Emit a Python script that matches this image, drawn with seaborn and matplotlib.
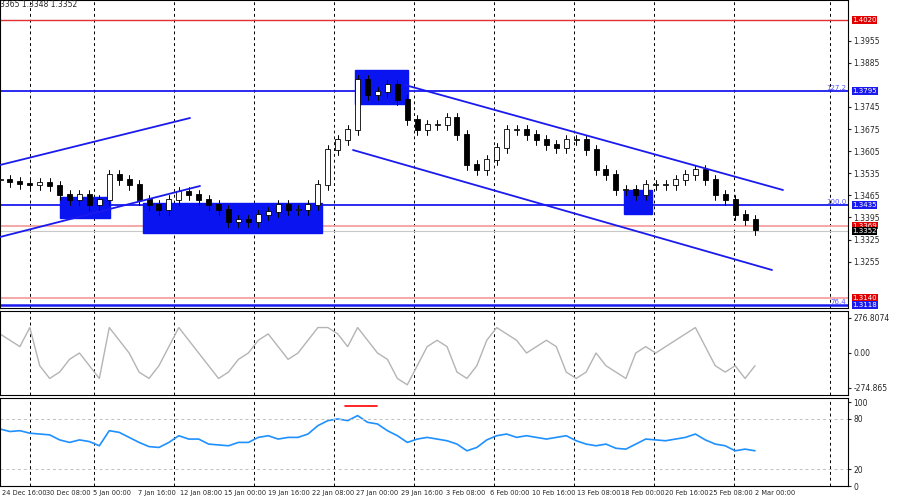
import numpy as np
import matplotlib
matplotlib.use("Agg")
import matplotlib.pyplot as plt
import seaborn as sns

sns.set_style("white")
plt.rcParams['font.family'] = ['DejaVu Sans']

closes = [1.3514,1.3507,1.3501,1.3498,1.3504,1.3495,1.3466,1.3450,1.3466,1.3435,1.3450,1.3529,
          1.3514,1.3498,1.3450,1.3435,1.3419,1.3450,1.3476,1.3466,1.3450,1.3435,1.3419,1.3381,
          1.3387,1.3381,1.3403,1.3412,1.3435,1.3419,1.3419,1.3435,1.3498,1.3609,1.3640,1.3672,
          1.3830,1.3783,1.3792,1.3814,1.3767,1.3704,1.3672,1.3688,1.3688,1.3710,1.3656,1.3561,
          1.3545,1.3577,1.3615,1.3672,1.3672,1.3656,1.3640,1.3624,1.3615,1.3640,1.3640,1.3609,
          1.3545,1.3529,1.3482,1.3482,1.3466,1.3498,1.3498,1.3498,1.3514,1.3529,1.3545,1.3514,
          1.3466,1.3450,1.3403,1.3387,1.3355]
rsi = [68,65,66,63,62,61,55,52,55,53,48,66,64,58,52,47,46,52,60,56,56,50,49,48,52,52,58,60,56,58,
       58,62,72,78,80,78,84,76,74,66,60,52,56,58,56,54,50,42,46,55,60,62,58,60,58,56,58,60,54,50,
       48,50,45,44,50,56,55,54,56,58,62,55,50,48,42,44,42]
cci = [150,100,50,200,-100,-200,-150,-50,0,-100,-200,200,100,0,-150,-200,-100,50,200,100,0,-100,
       -200,-150,-50,0,100,150,50,-50,0,100,200,200,150,50,200,100,0,-50,-200,-250,-100,50,100,50,
       -150,-200,-100,100,200,150,100,0,50,100,50,-150,-200,-150,0,-100,-150,-200,0,50,0,50,100,150,
       200,50,-100,-150,-100,-200,-100]
date_labels = ["24 Dec 16:00","30 Dec 08:00","5 Jan 00:00","7 Jan 16:00","12 Jan 08:00","15 Jan 00:00",
               "19 Jan 16:00","22 Jan 08:00","27 Jan 00:00","29 Jan 16:00","3 Feb 08:00","6 Feb 00:00",
               "10 Feb 16:00","13 Feb 08:00","18 Feb 00:00","20 Feb 16:00","25 Feb 08:00","2 Mar 00:00"]
price_ticks = [1.3255,1.3325,1.3395,1.3465,1.3535,1.3605,1.3675,1.3745,1.3885,1.3955]
levels = [(1.4020,'#e03030',1.0,'#e00000','1.4020'),(1.3795,'#1a1aee',1.3,'#1a1aee','1.3795'),
          (1.3435,'#1a1aee',1.3,'#1a1aee','1.3435'),(1.3369,'#f4a0a0',1.3,'#e00000','1.3369'),
          (1.3352,'#c8c8c8',0.8,'black','1.3352'),(1.3140,'#f4a0a0',1.3,'#e00000','1.3140'),
          (1.3118,'#1a1aee',1.8,'#1a1aee','1.3118')]

fig = plt.figure(figsize=(9,5), dpi=100)
W = 848/900
ax = fig.add_axes([0, 1-308/500, W, 308/500])
ax2 = fig.add_axes([0, 1-395/500, W, 84/500])
ax3 = fig.add_axes([0, 1-486/500, W, 88/500])
XMAX = 848
x = np.linspace(0, 755, len(closes))
grid_x = [30] + [94+80*k for k in range(9)] + [830]
for a in (ax, ax2, ax3):
    a.set_xlim(0, XMAX)
    for g in grid_x:
        a.axvline(g, color='black', ls=(0,(3,3)), lw=0.7, zorder=0)
    a.yaxis.tick_right()
    a.tick_params(axis='y', labelsize=5.5, length=2, pad=2)
    a.set_xticks([])
    for s in a.spines.values():
        s.set_color('black'); s.set_linewidth(0.8)

# main
ax.set_ylim(1.4020-(308-20)*0.0003165, 1.4020+20*0.0003165)
opens = [closes[0]] + closes[:-1]
for xi, o, c in zip(x, opens, closes):
    hi = max(o, c) + 0.0015; lo = min(o, c) - 0.0015
    ax.plot([xi, xi], [lo, hi], color='black', lw=0.7, zorder=3)
    up = c >= o
    ax.bar(xi, abs(c-o) + 0.0003, bottom=min(o, c), width=5, color='white' if up else 'black',
           edgecolor='black', lw=0.6, zorder=4)
P = lambda y: 1.4020-(y-20)*0.0003165
for (x0,y0,x1,y1) in [(60,197,110,218),(143,203,322,233),(355,70,408,104),(624,190,652,214)]:
    ax.add_patch(plt.Rectangle((x0, P(y1)), x1-x0, P(y0)-P(y1), color='#0a14f0', zorder=2))
for (x0,y0,x1,y1) in [(0,165,190,118),(0,237,200,186),(405,85,783,190),(353,150,772,270)]:
    ax.plot([x0,x1],[P(y0),P(y1)], color='#1a1aee', lw=1.3, zorder=5)
for v,col,lw,bcol,lab in levels:
    ax.axhline(v, color=col, lw=lw, zorder=1)
    ax.text(1.005, v, lab, transform=ax.get_yaxis_transform(), fontsize=5, color='white',
            va='center', ha='left', bbox=dict(boxstyle='square,pad=0.1', fc=bcol, ec='none'), zorder=10)
ax.text(XMAX-2, 1.3795, '127.2', fontsize=5, color='#5050ff', ha='right', va='bottom')
ax.text(XMAX-2, 1.3435, '100.0', fontsize=5, color='#5050ff', ha='right', va='bottom')
ax.text(XMAX-2, 1.3118, '76.4', fontsize=5, color='#5050ff', ha='right', va='bottom')
ax.set_yticks(price_ticks)
ax.set_yticklabels([f"{t:.4f}" for t in price_ticks])
ax.text(0, 1.0, '3365 1.3348 1.3352', transform=ax.transAxes, fontsize=5.5, va='top', ha='left')

# CCI
xc = np.linspace(0, 755, len(cci))
sns.lineplot(x=xc, y=cci, ax=ax2, color='#b4b4b4', lw=1.0)
ax2.set_ylim(-330, 330)
ax2.set_yticks([276.8074, 0, -274.865])
ax2.set_yticklabels(['276.8074','0.00','-274.865'])
# RSI
xr = np.linspace(0, 755, len(rsi))
sns.lineplot(x=xr, y=rsi, ax=ax3, color='#1e90ff', lw=1.2)
ax3.set_ylim(0, 105)
for lv in (80, 20):
    ax3.axhline(lv, color='#c0c0c0', ls=(0,(3,3)), lw=0.7)
ax3.plot([345, 377], [96, 96], color='red', lw=1.2)
ax3.set_yticks([100, 80, 20, 0]); ax3.set_yticklabels(['100','80','20','0'])
ax3.set_xticks(np.linspace(24, 775, len(date_labels)))
ax3.set_xticklabels(date_labels, fontsize=4.8)
ax3.tick_params(axis='x', length=2, pad=1)
fig.savefig('out.png', dpi=100)
